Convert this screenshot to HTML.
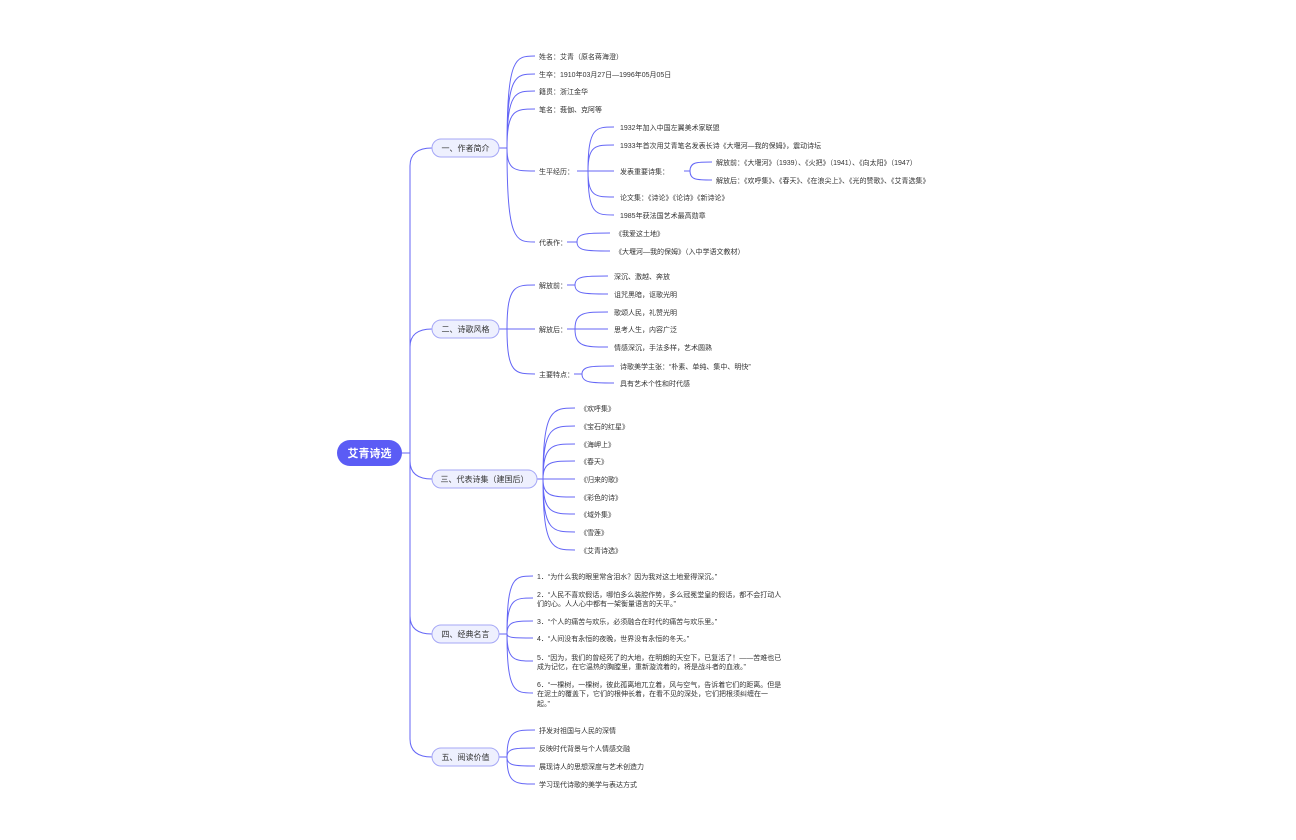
<!DOCTYPE html>
<html><head><meta charset="utf-8"><style>
html,body{margin:0;padding:0;background:#fff;}
svg{display:block;}
text{font-family:"Liberation Sans","Noto Sans CJK SC",sans-serif;font-size:7px;fill:#333;}
.l1{font-size:8px;fill:#333;}
</style></head><body>
<svg id="s" width="1296" height="840" viewBox="0 0 1296 840" xmlns="http://www.w3.org/2000/svg">
<g id="lines" fill="none" stroke="#6466f6" stroke-width="1"></g>
<rect x="337" y="440" width="65" height="26" rx="13" fill="#5b5cf5"/>
<text x="369.5" y="457" text-anchor="middle" style="font-size:11px;font-weight:bold;fill:#fff">艾青诗选</text>
<g fill="#eef0fe" stroke="#a5a7f6" stroke-width="1">
<rect x="432" y="139" width="67" height="18" rx="9"/>
<rect x="432" y="320" width="67" height="18" rx="9"/>
<rect x="432" y="470" width="105" height="18" rx="9"/>
<rect x="432" y="625" width="67" height="18" rx="9"/>
<rect x="432" y="748" width="67" height="18" rx="9"/>
</g>
<text class="l1" x="465.5" y="151" text-anchor="middle">一、作者简介</text>
<text class="l1" x="465.5" y="332" text-anchor="middle">二、诗歌风格</text>
<text class="l1" x="484.5" y="482" text-anchor="middle">三、代表诗集（建国后）</text>
<text class="l1" x="465.5" y="637" text-anchor="middle">四、经典名言</text>
<text class="l1" x="465.5" y="760" text-anchor="middle">五、阅读价值</text>
<g>
<text x="539" y="59">姓名：艾青（原名蒋海澄）</text>
<text x="539" y="77">生卒：1910年03月27日—1996年05月05日</text>
<text x="539" y="94">籍贯：浙江金华</text>
<text x="539" y="112">笔名：莪伽、克阿等</text>
<text x="539" y="174">生平经历：</text>
<text x="539" y="245">代表作：</text>
<text x="620" y="130">1932年加入中国左翼美术家联盟</text>
<text x="620" y="148">1933年首次用艾青笔名发表长诗《大堰河—我的保姆》，震动诗坛</text>
<text x="620" y="174">发表重要诗集：</text>
<text x="620" y="200">论文集：《诗论》《论诗》《新诗论》</text>
<text x="620" y="218">1985年获法国艺术最高勋章</text>
<text x="716" y="165">解放前：《大堰河》（1939）、《火把》（1941）、《向太阳》（1947）</text>
<text x="716" y="183">解放后：《欢呼集》、《春天》、《在浪尖上》、《光的赞歌》、《艾青选集》</text>
<text x="615" y="236">《我爱这土地》</text>
<text x="615" y="254">《大堰河—我的保姆》（入中学语文教材）</text>
<text x="539" y="288">解放前：</text>
<text x="539" y="332">解放后：</text>
<text x="539" y="377">主要特点：</text>
<text x="614" y="279">深沉、激越、奔放</text>
<text x="614" y="297">诅咒黑暗，讴歌光明</text>
<text x="614" y="315">歌颂人民，礼赞光明</text>
<text x="614" y="332">思考人生，内容广泛</text>
<text x="614" y="350">情感深沉，手法多样，艺术圆熟</text>
<text x="620" y="369">诗歌美学主张：“朴素、单纯、集中、明快”</text>
<text x="620" y="386">具有艺术个性和时代感</text>
<text x="580" y="411">《欢呼集》</text>
<text x="580" y="429">《宝石的红星》</text>
<text x="580" y="447">《海岬上》</text>
<text x="580" y="464">《春天》</text>
<text x="580" y="482">《归来的歌》</text>
<text x="580" y="500">《彩色的诗》</text>
<text x="580" y="517">《域外集》</text>
<text x="580" y="535">《雪莲》</text>
<text x="580" y="553">《艾青诗选》</text>
<text x="537" y="579">1．“为什么我的眼里常含泪水？因为我对这土地爱得深沉。”</text>
<text x="537" y="597">2．“人民不喜欢假话，哪怕多么装腔作势，多么冠冕堂皇的假话，都不会打动人</text>
<text x="537" y="606">们的心。人人心中都有一架衡量语言的天平。”</text>
<text x="537" y="624">3．“个人的痛苦与欢乐，必须融合在时代的痛苦与欢乐里。”</text>
<text x="537" y="641">4．“人间没有永恒的夜晚，世界没有永恒的冬天。”</text>
<text x="537" y="660">5．“因为，我们的曾经死了的大地，在明朗的天空下，已复活了！——苦难也已</text>
<text x="537" y="669">成为记忆，在它温热的胸膛里，重新漩流着的，将是战斗者的血液。”</text>
<text x="537" y="687">6．“一棵树，一棵树，彼此孤离地兀立着，风与空气，告诉着它们的距离。但是</text>
<text x="537" y="696">在泥土的覆盖下，它们的根伸长着，在看不见的深处，它们把根须纠缠在一</text>
<text x="537" y="706">起。”</text>
<text x="539" y="733">抒发对祖国与人民的深情</text>
<text x="539" y="751">反映时代背景与个人情感交融</text>
<text x="539" y="769">展现诗人的思想深度与艺术创造力</text>
<text x="539" y="787">学习现代诗歌的美学与表达方式</text>
</g>
</svg>
<script>
var g=document.getElementById('lines'),d='';
function P(s){d+=s+' ';}
function fan(px,py,stub,cx,ys){
 P('M'+px+' '+py+' H'+(px+stub));
 var x0=px+stub;
 ys.forEach(function(y){
  if(Math.abs(y-py)<1){P('M'+x0+' '+py+' H'+cx);return;}
  P('M'+x0+' '+py+' C'+x0+' '+y+' '+(x0+(cx-x0)*0.3)+' '+y+' '+cx+' '+y);
 });
}
// root trunk
[148,329,479,634,757].forEach(function(y){
 var x=410;
 P('M402 453 H'+x);
 if(Math.abs(y-453)<1){P('M'+x+' 453 H432');return;}
 var s=y<453?1:-1;
 P('M'+x+' 453 V'+(y+s*18)+' Q'+x+' '+y+' 432 '+y);
});
fan(499,148,8,535,[56,74,91,109,171,242]);
fan(577,171,11,614,[127,145,171,197,215]);
fan(684,171,6,712,[162,180]);
fan(567,242,10,610,[233,251]);
fan(499,329,8,535,[285,329,374]);
fan(567,285,8,608,[276,294]);
fan(567,329,8,608,[312,329,347]);
fan(574,374,8,614,[366,383]);
fan(537,479,6,575,[408,426,444,461,479,497,514,532,550]);
fan(499,634,8,533,[576,598,621,638,661,693]);
fan(499,757,8,535,[730,748,766,784]);
var p=document.createElementNS('http://www.w3.org/2000/svg','path');
p.setAttribute('d',d);g.appendChild(p);
</script>
</body></html>
